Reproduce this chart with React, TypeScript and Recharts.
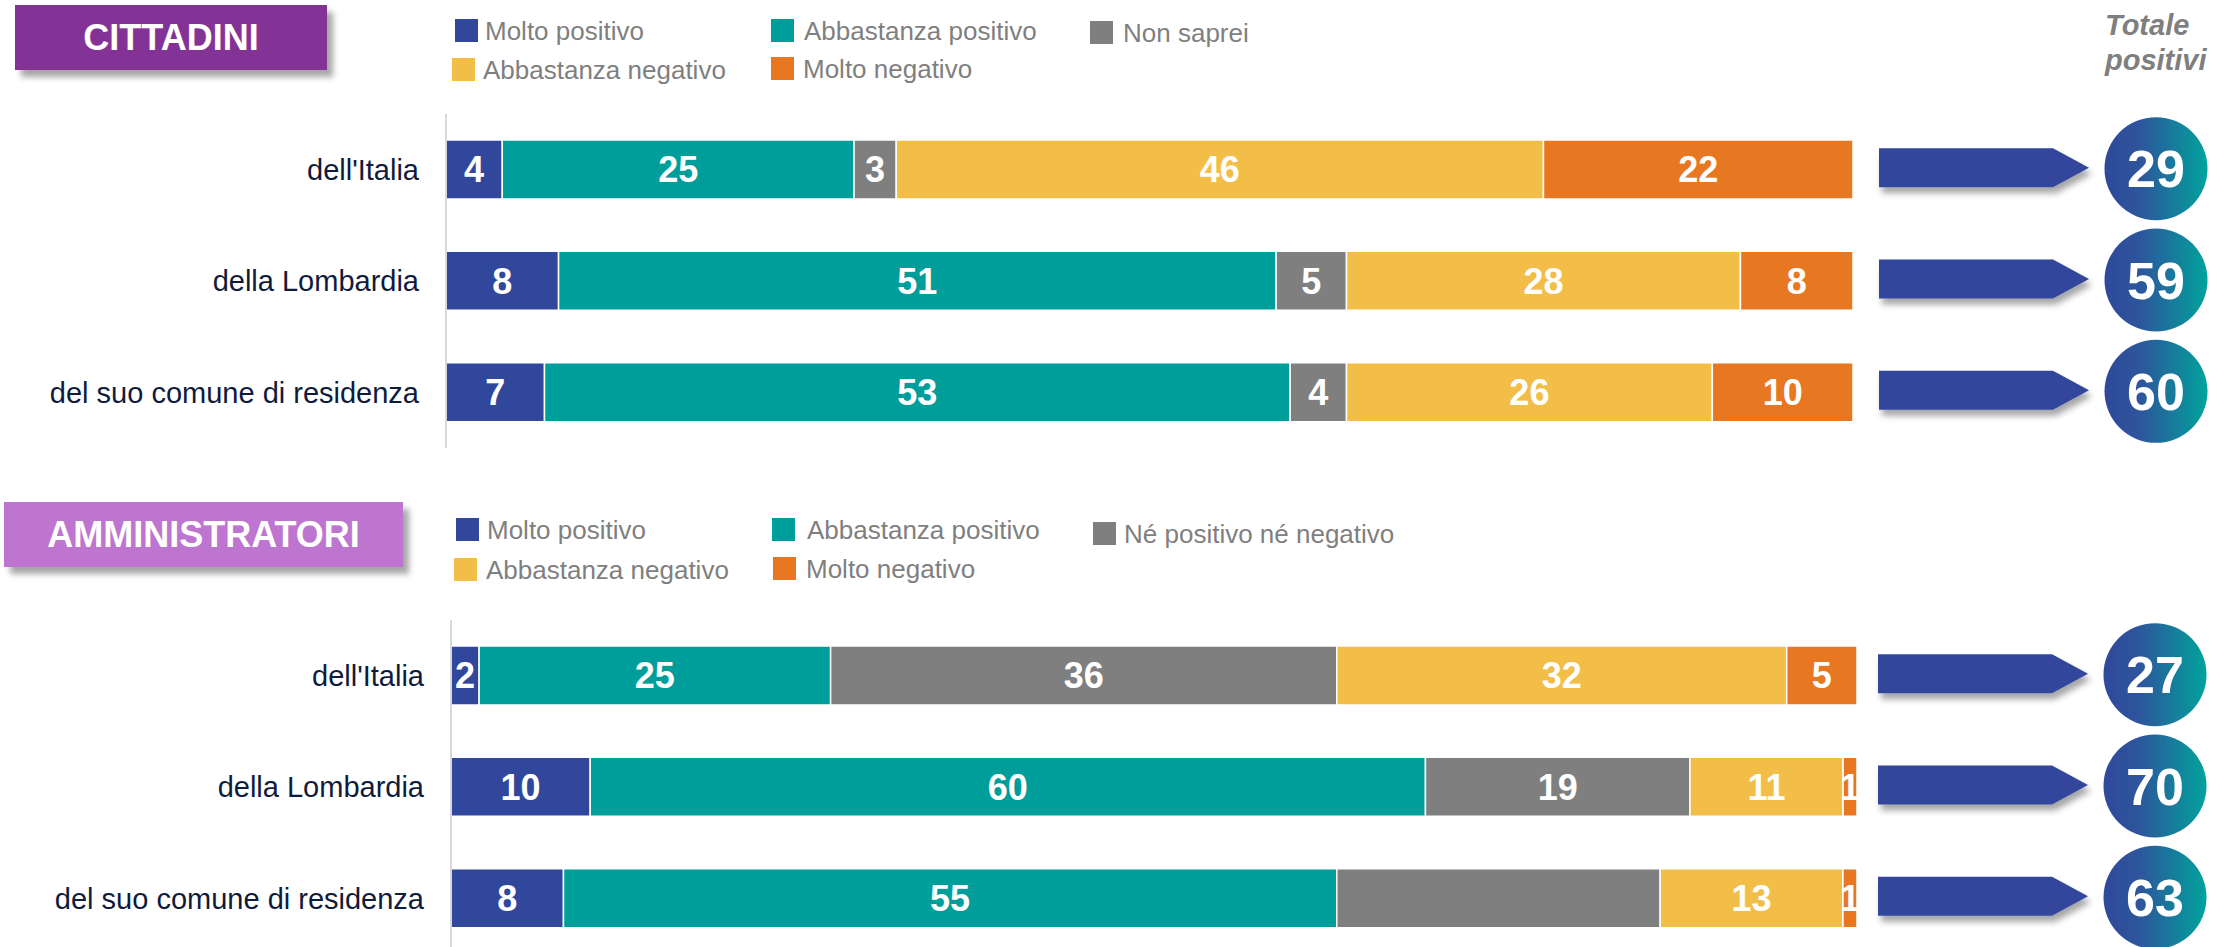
import React from 'react';
import { BarChart, Bar, XAxis, YAxis, LabelList } from 'recharts';

const FONT = '"Liberation Sans", Arial, Helvetica, sans-serif';

const categories = ["dell'Italia", 'della Lombardia', 'del suo comune di residenza'];

// CITTADINI
const citMoltoPos = [4, 8, 7];
const citAbbPos = [25, 51, 53];
const citNonSaprei = [3, 5, 4];
const citAbbNeg = [46, 28, 26];
const citMoltoNeg = [22, 8, 10];
const citTotali = [29, 59, 60];

// AMMINISTRATORI
const ammMoltoPos = [2, 10, 8];
const ammAbbPos = [25, 60, 55];
const ammNeutro = [36, 19, 23]; // the last one has no printed value in the original
const ammAbbNeg = [32, 11, 13];
const ammMoltoNeg = [5, 1, 1];
const ammTotali = [27, 70, 63];

const citLegend = ['Molto positivo', 'Abbastanza positivo', 'Non saprei', 'Abbastanza negativo', 'Molto negativo'];
const ammLegend = ['Molto positivo', 'Abbastanza positivo', 'Né positivo né negativo', 'Abbastanza negativo', 'Molto negativo'];

const KEYS = ['mp', 'ap', 'nn', 'an', 'mn'];
const COLORS = ['#31479c', '#009e9b', '#7f7f7f', '#f2be48', '#e87722'];

const citData = categories.map((cat, i) => ({
  cat,
  mp: citMoltoPos[i],
  ap: citAbbPos[i],
  nn: citNonSaprei[i],
  an: citAbbNeg[i],
  mn: citMoltoNeg[i],
}));

const ammData = categories.map((cat, i) => ({
  cat,
  mp: ammMoltoPos[i],
  ap: ammAbbPos[i],
  nn: ammNeutro[i],
  an: ammAbbNeg[i],
  mn: ammMoltoNeg[i],
}));

// legend item placement (square x/y, text x)
const citLegendPos = [
  { x: 455, y: 19, tx: 485 },
  { x: 771, y: 19, tx: 804 },
  { x: 1090, y: 21, tx: 1123 },
  { x: 452, y: 58, tx: 483 },
  { x: 771, y: 57, tx: 803 },
];
const ammLegendPos = [
  { x: 456, y: 518, tx: 487 },
  { x: 772, y: 518, tx: 807 },
  { x: 1093, y: 522, tx: 1124 },
  { x: 454, y: 558, tx: 486 },
  { x: 773, y: 557, tx: 806 },
];

function Legend({ names, pos }: { names: string[]; pos: { x: number; y: number; tx: number }[] }) {
  return (
    <>
      {names.map((n, i) => (
        <React.Fragment key={n + i}>
          <div style={{ position: 'absolute', left: pos[i].x, top: pos[i].y, width: 23, height: 23, background: COLORS[i] }} />
          <div
            style={{
              position: 'absolute',
              left: pos[i].tx,
              top: pos[i].y + 11.5 - 16,
              height: 32,
              lineHeight: '32px',
              fontSize: 26,
              color: '#7f7f7f',
              whiteSpace: 'nowrap',
            }}
          >
            {n}
          </div>
        </React.Fragment>
      ))}
    </>
  );
}

function Header({ text, left, top, width, color }: { text: string; left: number; top: number; width: number; color: string }) {
  return (
    <div
      style={{
        position: 'absolute',
        left,
        top,
        width,
        height: 65,
        background: color,
        color: '#fff',
        fontWeight: 'bold',
        fontSize: 36,
        lineHeight: '65px',
        textAlign: 'center',
        boxShadow: '6px 7px 6px rgba(0,0,0,0.35)',
      }}
    >
      {text}
    </div>
  );
}

const makeTotalTick = (totals: number[], id: string, gap: number) => (props: any) => {
  const { x, y, index } = props;
  const cy = y - 1;
  const ay = y - 2;
  const x0 = x + gap;
  const xh = x0 + 174;
  const xt = x0 + 210;
  const h = 19.5;
  const pts = `${x0},${ay - h} ${xh},${ay - h} ${xt},${ay} ${xh},${ay + h} ${x0},${ay + h}`;
  const cx = x0 + 277;
  return (
    <g>
      <defs>
        <linearGradient id={`grad-${id}-${index}`} x1="0" y1="0" x2="1" y2="0">
          <stop offset="0%" stopColor="#30489b" />
          <stop offset="35%" stopColor="#2d569c" />
          <stop offset="100%" stopColor="#00a39c" />
        </linearGradient>
        <filter id={`sh-${id}-${index}`} x="-10%" y="-40%" width="130%" height="200%">
          <feDropShadow dx="3" dy="6" stdDeviation="3" floodColor="#000" floodOpacity="0.35" />
        </filter>
      </defs>
      <polygon points={pts} fill="#31479c" filter={`url(#sh-${id}-${index})`} />
      <circle cx={cx} cy={cy} r={51.5} fill={`url(#grad-${id}-${index})`} />
      <text x={cx} y={cy} dy="0.36em" textAnchor="middle" fontSize={52} fontWeight="bold" fill="#fff">
        {totals[index]}
      </text>
    </g>
  );
};

const makeLabel = (values: number[], hidden: number[]) => (props: any) => {
  const vb = props.viewBox && props.viewBox.width !== undefined ? props.viewBox : props;
  const { x, y, width, height } = vb;
  const index = props.index;
  if (hidden.includes(index)) return null;
  return (
    <text
      x={x + width / 2}
      y={y + height / 2}
      dy="0.36em"
      textAnchor="middle"
      fontSize={36}
      fontWeight="bold"
      fill="#fff"
    >
      {values[index]}
    </text>
  );
};

function Section({
  data,
  series,
  totals,
  id,
  top,
  leftW,
  rightW,
  marginTop,
  height,
  gap,
  hidden,
}: {
  data: any[];
  series: number[][];
  totals: number[];
  id: string;
  top: number;
  leftW: number;
  rightW: number;
  marginTop: number;
  height: number;
  gap: number;
  hidden: Record<string, number[]>;
}) {
  return (
    <div style={{ position: 'absolute', left: 0, top }}>
      <BarChart
        width={2223}
        height={height}
        data={data}
        layout="vertical"
        stackOffset="expand"
        margin={{ top: marginTop, right: 0, bottom: height - marginTop - 334, left: 0 }}
      >
        <XAxis type="number" hide domain={[0, 1]} />
        <YAxis
          type="category"
          dataKey="cat"
          width={leftW}
          interval={0}
          tickSize={0}
          tickMargin={27}
          tickLine={false}
          axisLine={{ stroke: '#d9d9d9', strokeWidth: 2 }}
          tick={{ fontSize: 29, fill: '#0f1b3d' }}
        />
        <YAxis
          yAxisId="tot"
          orientation="right"
          type="category"
          dataKey="cat"
          width={rightW}
          interval={0}
          tickSize={0}
          tickMargin={0}
          tickLine={false}
          axisLine={false}
          tick={makeTotalTick(totals, id, gap)}
        />
        {KEYS.map((k, i) => (
          <Bar
            key={k}
            dataKey={k}
            stackId="s"
            fill={COLORS[i]}
            stroke="#ffffff"
            strokeWidth={1.5}
            barSize={59}
            isAnimationActive={false}
          >
            <LabelList dataKey={k} content={makeLabel(series[i], hidden[k] || [])} />
          </Bar>
        ))}
      </BarChart>
    </div>
  );
}

export default function App() {
  return (
    <div
      style={{
        position: 'absolute',
        left: 0,
        top: 0,
        width: 2223,
        height: 947,
        overflow: 'hidden',
        background: '#fff',
        fontFamily: FONT,
      }}
    >
      <Section
        data={citData}
        series={[citMoltoPos, citAbbPos, citNonSaprei, citAbbNeg, citMoltoNeg]}
        totals={citTotali}
        id="cit"
        top={0}
        leftW={446}
        rightW={370}
        marginTop={114}
        height={470}
        gap={26}
        hidden={{}}
      />
      <Section
        data={ammData}
        series={[ammMoltoPos, ammAbbPos, ammNeutro, ammAbbNeg, ammMoltoNeg]}
        totals={ammTotali}
        id="amm"
        top={480}
        leftW={451}
        rightW={366}
        marginTop={140}
        height={480}
        gap={21}
        hidden={{ nn: [2] }}
      />
      <Header text="CITTADINI" left={15} top={5} width={312} color="#833396" />
      <Header text="AMMINISTRATORI" left={4} top={502} width={399} color="#be75d0" />
      <Legend names={citLegend} pos={citLegendPos} />
      <Legend names={ammLegend} pos={ammLegendPos} />
      <div
        style={{
          position: 'absolute',
          left: 2105,
          top: 8,
          fontSize: 29,
          lineHeight: '35px',
          fontWeight: 'bold',
          fontStyle: 'italic',
          color: '#7f7f7f',
        }}
      >
        Totale
        <br />
        positivi
      </div>
    </div>
  );
}
